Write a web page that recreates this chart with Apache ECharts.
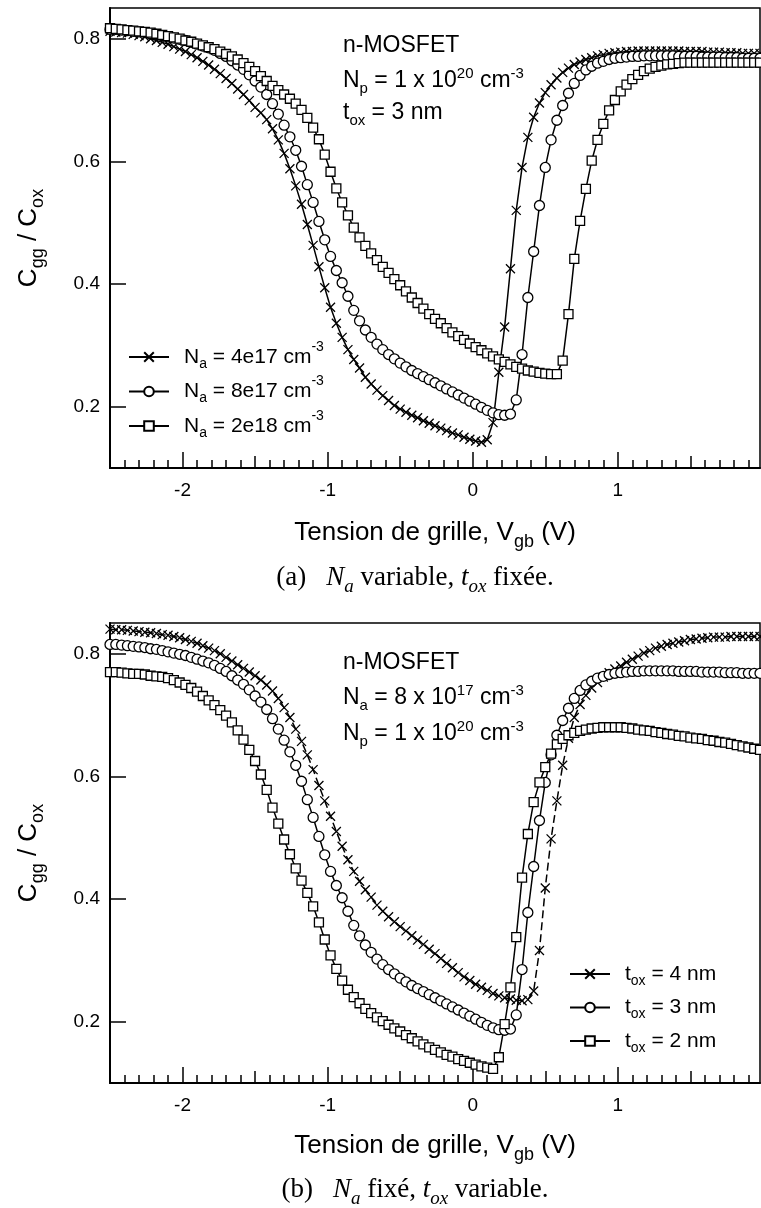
<!DOCTYPE html>
<html><head><meta charset="utf-8">
<script src="https://cdn.jsdelivr.net/npm/echarts@6/dist/echarts.min.js"></script>
<style>html,body{margin:0;padding:0;background:#fff}#c{width:761px;height:1208px}</style>
</head><body><div id="c"></div>
<script>
// Gate voltage sweep (V)
const vgb = [
 -2.5,-2.46,-2.42,-2.38,-2.34,-2.3,-2.26,-2.22,-2.18,-2.14,
 -2.1,-2.06,-2.02,-1.98,-1.94,-1.9,-1.86,-1.82,-1.78,-1.74,
 -1.7,-1.66,-1.62,-1.58,-1.54,-1.5,-1.46,-1.42,-1.38,-1.34,
 -1.3,-1.26,-1.22,-1.18,-1.14,-1.1,-1.06,-1.02,-0.98,-0.94,
 -0.9,-0.86,-0.82,-0.78,-0.74,-0.7,-0.66,-0.62,-0.58,-0.54,
 -0.5,-0.46,-0.42,-0.38,-0.34,-0.3,-0.26,-0.22,-0.18,-0.14,
 -0.1,-0.06,-0.02,0.02,0.06,0.1,0.14,0.18,0.22,0.26,
 0.3,0.34,0.38,0.42,0.46,0.5,0.54,0.58,0.62,0.66,
 0.7,0.74,0.78,0.82,0.86,0.9,0.94,0.98,1.02,1.06,
 1.1,1.14,1.18,1.22,1.26,1.3,1.34,1.38,1.42,1.46,
 1.5,1.54,1.58,1.62,1.66,1.7,1.74,1.78,1.82,1.86,
 1.9,1.94,1.98];

// Panel (a): Na = 4e17, tox = 3 nm (crosses)
const cggNa4e17 = [
 0.812,0.811,0.810,0.809,0.807,0.805,0.803,0.800,0.797,0.794,
 0.791,0.787,0.783,0.779,0.774,0.769,0.763,0.757,0.750,0.743,
 0.735,0.727,0.718,0.709,0.699,0.688,0.679,0.668,0.653,0.635,
 0.613,0.588,0.560,0.530,0.497,0.463,0.428,0.394,0.362,0.336,
 0.313,0.293,0.277,0.263,0.248,0.237,0.227,0.218,0.210,0.202,
 0.196,0.191,0.186,0.182,0.177,0.173,0.169,0.165,0.161,0.157,
 0.154,0.150,0.147,0.144,0.142,0.146,0.174,0.256,0.330,0.425,
 0.520,0.590,0.639,0.672,0.695,0.712,0.725,0.736,0.745,0.752,
 0.758,0.762,0.766,0.769,0.772,0.774,0.776,0.777,0.778,0.779,
 0.779,0.780,0.780,0.780,0.780,0.780,0.780,0.780,0.780,0.779,
 0.779,0.779,0.779,0.778,0.778,0.778,0.777,0.777,0.777,0.776,
 0.776,0.776,0.776];

// Na = 8e17, tox = 3 nm (circles, same device in both panels)
const cggNa8e17 = [
 0.815,0.815,0.814,0.813,0.812,0.811,0.810,0.808,0.807,0.805,
 0.803,0.801,0.799,0.797,0.794,0.791,0.788,0.785,0.781,0.776,
 0.771,0.764,0.757,0.750,0.741,0.731,0.721,0.709,0.694,0.677,
 0.659,0.640,0.618,0.592,0.562,0.533,0.502,0.472,0.445,0.422,
 0.402,0.380,0.357,0.340,0.325,0.313,0.302,0.293,0.285,0.278,
 0.271,0.265,0.259,0.254,0.249,0.244,0.239,0.234,0.229,0.224,
 0.219,0.214,0.209,0.204,0.199,0.194,0.190,0.187,0.186,0.188,
 0.211,0.285,0.378,0.453,0.528,0.590,0.635,0.667,0.691,0.711,
 0.727,0.740,0.749,0.755,0.760,0.763,0.766,0.768,0.769,0.770,
 0.771,0.771,0.772,0.772,0.772,0.772,0.772,0.772,0.771,0.771,
 0.771,0.771,0.770,0.770,0.770,0.770,0.769,0.769,0.769,0.768,
 0.768,0.768,0.768];

// Panel (a): Na = 2e18, tox = 3 nm (squares)
const cggNa2e18 = [
 0.817,0.816,0.815,0.814,0.813,0.812,0.811,0.810,0.808,0.806,
 0.804,0.802,0.800,0.797,0.795,0.792,0.789,0.786,0.783,0.779,
 0.775,0.771,0.766,0.760,0.754,0.747,0.739,0.731,0.723,0.716,
 0.709,0.702,0.694,0.684,0.671,0.655,0.636,0.611,0.583,0.556,
 0.533,0.512,0.492,0.476,0.462,0.450,0.439,0.428,0.418,0.408,
 0.398,0.388,0.378,0.369,0.360,0.351,0.343,0.336,0.328,0.321,
 0.315,0.309,0.303,0.297,0.292,0.287,0.282,0.277,0.273,0.269,
 0.265,0.262,0.259,0.257,0.255,0.254,0.253,0.253,0.275,0.351,
 0.441,0.503,0.555,0.601,0.635,0.661,0.683,0.700,0.714,0.725,
 0.734,0.741,0.747,0.751,0.754,0.756,0.758,0.759,0.760,0.761,
 0.761,0.761,0.761,0.761,0.761,0.761,0.761,0.761,0.761,0.761,
 0.761,0.761,0.761];

// Panel (b): Na = 8e17, tox = 4 nm (crosses)
const cggTox4 = [
 0.840,0.839,0.839,0.838,0.837,0.836,0.835,0.834,0.833,0.831,
 0.830,0.828,0.826,0.823,0.820,0.817,0.813,0.809,0.805,0.800,
 0.794,0.788,0.782,0.776,0.770,0.764,0.757,0.749,0.739,0.727,
 0.712,0.696,0.677,0.657,0.635,0.611,0.585,0.560,0.535,0.510,
 0.486,0.464,0.445,0.429,0.415,0.403,0.390,0.380,0.371,0.363,
 0.355,0.348,0.340,0.333,0.326,0.318,0.311,0.303,0.295,0.288,
 0.280,0.273,0.267,0.261,0.256,0.251,0.246,0.242,0.239,0.237,
 0.235,0.234,0.236,0.250,0.316,0.418,0.498,0.560,0.618,0.662,
 0.696,0.717,0.732,0.744,0.753,0.762,0.769,0.775,0.780,0.786,
 0.791,0.796,0.801,0.805,0.809,0.812,0.815,0.817,0.819,0.821,
 0.823,0.824,0.825,0.826,0.827,0.827,0.827,0.828,0.828,0.828,
 0.828,0.828,0.828];

// Panel (b): Na = 8e17, tox = 2 nm (squares)
const cggTox2 = [
 0.770,0.770,0.769,0.768,0.767,0.767,0.766,0.764,0.763,0.762,
 0.760,0.757,0.753,0.749,0.744,0.738,0.731,0.724,0.716,0.708,
 0.699,0.688,0.675,0.660,0.643,0.625,0.603,0.578,0.549,0.523,
 0.497,0.473,0.450,0.430,0.410,0.388,0.362,0.334,0.308,0.286,
 0.267,0.252,0.240,0.230,0.221,0.214,0.207,0.201,0.195,0.189,
 0.184,0.178,0.173,0.168,0.163,0.158,0.154,0.150,0.146,0.143,
 0.139,0.136,0.133,0.130,0.127,0.125,0.123,0.142,0.196,0.256,
 0.338,0.435,0.506,0.558,0.590,0.615,0.637,0.652,0.661,0.667,
 0.671,0.674,0.676,0.678,0.679,0.680,0.680,0.680,0.680,0.679,
 0.678,0.676,0.675,0.674,0.672,0.671,0.669,0.668,0.666,0.665,
 0.663,0.662,0.661,0.659,0.658,0.656,0.655,0.653,0.651,0.649,
 0.647,0.645,0.643];

// Axis ticks and labels
const xLabelValues = [-2, -1, 0, 1];
const xMajorTicks = [-2, -1, 0, 1];
const xHalfTicks = [-1.5, -0.5, 0.5, 1.5];
const xMinorTicks = [-2.4,-2.3,-2.2,-2.1,-1.9,-1.8,-1.7,-1.6,-1.4,-1.3,-1.2,-1.1,
  -0.9,-0.8,-0.7,-0.6,-0.4,-0.3,-0.2,-0.1,0.1,0.2,0.3,0.4,0.6,0.7,0.8,0.9,
  1.1,1.2,1.3,1.4,1.6,1.7,1.8,1.9];
const yTickValues = [0.2, 0.4, 0.6, 0.8];
const X_MIN = -2.5, X_MAX = 1.98, Y_MIN = 0.1, Y_MAX = 0.85;

const SANS = "'Liberation Sans', Arial, Helvetica, sans-serif";
const SERIF = "'Liberation Serif', 'Times New Roman', serif";
const BLACK = '#000';

const chart = echarts.init(document.getElementById('c'), null, {renderer: 'canvas'});

const panels = [{top: 8, nameGap: 50}, {top: 623, nameGap: 48}];
const GRID_LEFT = 110, GRID_W = 650, GRID_H = 460;

const grids = [], xAxes = [], yAxes = [];
const titleRich = {
  n: {fontFamily: SANS, fontSize: 26, lineHeight: 30, color: BLACK},
  sub: {fontFamily: SANS, fontSize: 18, lineHeight: 18, padding: [18, 0, 0, 0], color: BLACK}
};
panels.forEach((p, pi) => {
  for (let k = 0; k < 3; k++) {
    grids.push({left: GRID_LEFT, top: p.top, width: GRID_W, height: GRID_H,
      show: k === 0, borderColor: BLACK, borderWidth: 1.5, backgroundColor: 'transparent'});
    const gi = pi * 3 + k;
    const base = {type: 'value', gridIndex: gi, min: X_MIN, max: X_MAX, splitLine: {show: false}};
    if (k === 0) {
      xAxes.push(Object.assign(base, {
        axisLine: {show: true, onZero: false, lineStyle: {color: BLACK, width: 2}},
        axisTick: {show: true, inside: true, length: 8, customValues: xMinorTicks, lineStyle: {color: BLACK, width: 1.5}},
        axisLabel: {show: true, customValues: xLabelValues, formatter: v => String(v), margin: 13,
          fontFamily: SANS, fontSize: 19, color: BLACK},
        name: '{n|Tension de grille, V}{sub|gb}{n| (V)}', nameLocation: 'middle', nameGap: p.nameGap,
        nameTextStyle: {fontFamily: SANS, fontSize: 26, color: BLACK, rich: titleRich}
      }));
      yAxes.push({type: 'value', gridIndex: gi, min: Y_MIN, max: Y_MAX, splitLine: {show: false},
        axisLine: {show: true, onZero: false, lineStyle: {color: BLACK, width: 2}},
        axisTick: {show: true, inside: true, length: 16, customValues: yTickValues, lineStyle: {color: BLACK, width: 1.5}},
        axisLabel: {show: true, customValues: yTickValues, formatter: v => v.toFixed(1), margin: 10,
          fontFamily: SANS, fontSize: 19, color: BLACK},
        name: '{n|C}{sub|gg}{n| / C}{sub|ox}', nameLocation: 'middle', nameRotate: 90, nameGap: 66,
        nameTextStyle: {fontFamily: SANS, fontSize: 26, color: BLACK, rich: titleRich}
      });
    } else {
      xAxes.push(Object.assign(base, {
        axisLine: {show: false},
        axisTick: {show: true, inside: true, length: k === 1 ? 12 : 16,
          customValues: k === 1 ? xHalfTicks : xMajorTicks, lineStyle: {color: BLACK, width: 1.5}},
        axisLabel: {show: false}
      }));
      yAxes.push({type: 'value', gridIndex: gi, min: Y_MIN, max: Y_MAX, show: false});
    }
  }
});

const CROSS = 'path://M0,0L10,10M10,0L0,10';
function makeSeries(name, values, symbol, size, axisIndex, dash) {
  return {
    type: 'line', name: name, xAxisIndex: axisIndex, yAxisIndex: axisIndex,
    data: vgb.map((v, i) => [v, values[i]]),
    symbol: symbol, symbolSize: size, showAllSymbol: true, smooth: false,
    lineStyle: {color: BLACK, width: 1.5, type: dash || 'solid'},
    itemStyle: {color: '#fff', borderColor: BLACK, borderWidth: 1.3},
    emphasis: {disabled: true}, animation: false
  };
}

const series = [
  makeSeries('Na4e17', cggNa4e17, CROSS, 9, 0),
  makeSeries('Na8e17', cggNa8e17, 'circle', 10, 0),
  makeSeries('Na2e18', cggNa2e18, 'rect', 9, 0),
  makeSeries('tox4', cggTox4, CROSS, 9, 3, [8, 4]),
  makeSeries('tox3', cggNa8e17, 'circle', 10, 3),
  makeSeries('tox2', cggTox2, 'rect', 9, 3)
];

const legendLabels = {
  Na4e17: '{n|N}{sub|a}{n| = 4e17 cm}{sup|-3}',
  Na8e17: '{n|N}{sub|a}{n| = 8e17 cm}{sup|-3}',
  Na2e18: '{n|N}{sub|a}{n| = 2e18 cm}{sup|-3}',
  tox4: '{n|t}{sub|ox}{n| = 4 nm}',
  tox3: '{n|t}{sub|ox}{n| = 3 nm}',
  tox2: '{n|t}{sub|ox}{n| = 2 nm}'
};
const legendRich = {
  n: {fontFamily: SANS, fontSize: 21, lineHeight: 34, color: BLACK},
  sub: {fontFamily: SANS, fontSize: 14, lineHeight: 14, padding: [14, 0, 0, 0], color: BLACK},
  sup: {fontFamily: SANS, fontSize: 14, lineHeight: 8, verticalAlign: 'top', color: BLACK}
};
function makeLegend(names, left, top, gap) {
  return {show: true, orient: 'vertical', left: left, top: top, padding: 0, itemGap: gap,
    itemWidth: 40, itemHeight: 12, selectedMode: false, data: names,
    lineStyle: {type: 'solid'},
    formatter: n => legendLabels[n],
    textStyle: {fontFamily: SANS, fontSize: 21, color: BLACK, padding: [0, 0, 0, 10], rich: legendRich}};
}

const annRich = {
  n: {fontFamily: SANS, fontSize: 23, lineHeight: 30, color: BLACK},
  sub: {fontFamily: SANS, fontSize: 15, lineHeight: 15, padding: [16, 0, 0, 0], color: BLACK},
  sup: {fontFamily: SANS, fontSize: 15, lineHeight: 5, verticalAlign: 'top', color: BLACK}
};
const capRich = {
  n: {fontFamily: SERIF, fontSize: 27, lineHeight: 34, color: BLACK},
  i: {fontFamily: SERIF, fontStyle: 'italic', fontSize: 27, lineHeight: 34, color: BLACK},
  isub: {fontFamily: SERIF, fontStyle: 'italic', fontSize: 19, lineHeight: 19, padding: [17, 0, 0, 0], color: BLACK},
  gap: {fontFamily: SERIF, fontSize: 27, width: 20, lineHeight: 34}
};
function txt(text, x, y, rich, align) {
  return {type: 'text', x: x, y: y, silent: true, z: 100,
    style: {text: text, rich: rich, align: align || 'left', verticalAlign: 'middle', fill: BLACK}};
}
const graphics = [
  txt('{n|n-MOSFET}', 343, 46, annRich),
  txt('{n|N}{sub|p}{n| = 1 x 10}{sup|20}{n| cm}{sup|-3}', 343, 81, annRich),
  txt('{n|t}{sub|ox}{n| = 3 nm}', 343, 113, annRich),
  txt('{n|n-MOSFET}', 343, 663, annRich),
  txt('{n|N}{sub|a}{n| = 8 x 10}{sup|17}{n| cm}{sup|-3}', 343, 698, annRich),
  txt('{n|N}{sub|p}{n| = 1 x 10}{sup|20}{n| cm}{sup|-3}', 343, 734, annRich),
  txt('{n|(a)}{gap| }{i|N}{isub|a}{n| variable, }{i|t}{isub|ox}{n| fixée.}', 415, 578, capRich, 'center'),
  txt('{n|(b)}{gap| }{i|N}{isub|a}{n| fixé, }{i|t}{isub|ox}{n| variable.}', 415, 1190, capRich, 'center')
];

chart.setOption({
  animation: false,
  backgroundColor: '#fff',
  grid: grids, xAxis: xAxes, yAxis: yAxes,
  legend: [makeLegend(['Na4e17', 'Na8e17', 'Na2e18'], 128, 340, 3.5),
           makeLegend(['tox4', 'tox3', 'tox2'], 569, 960, 5.5)],
  series: series,
  graphic: graphics
});
</script></body></html>
